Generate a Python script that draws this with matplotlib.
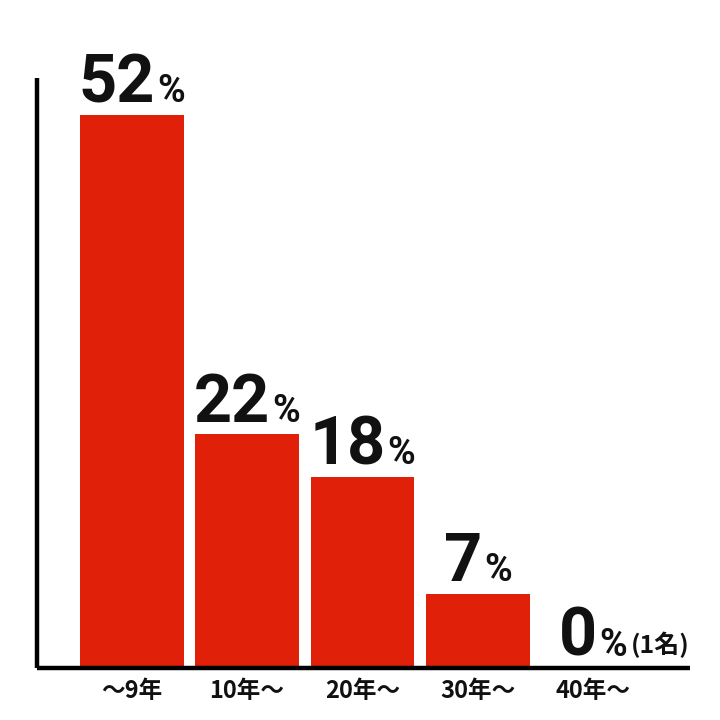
import matplotlib
matplotlib.use('Agg')
import matplotlib.pyplot as plt

plt.rcParams['font.family'] = ['Noto Sans CJK JP', 'DejaVu Sans']

categories = ['～9年', '10年～', '20年～', '30年～', '40年～']
values = [52, 22, 18, 7, 0]
notes = ['', '', '', '', '(1名)']

red = '#e02008'

fig = plt.figure(figsize=(7.2, 7.2), dpi=100)
ax = fig.add_axes([0.051, 0.072, 0.907, 0.82])

x = list(range(len(values)))
ax.bar(x, values, width=0.9, color=red, zorder=2)

ax.set_xlim(-0.823, 4.836)
ax.set_ylim(0, 55.5)
for s in ['top', 'right']:
    ax.spines[s].set_visible(False)
for s in ['left', 'bottom']:
    ax.spines[s].set_linewidth(3.2)
    ax.spines[s].set_color('black')
    ax.spines[s].set_capstyle('butt')
ax.set_yticks([])
ax.set_xticks(x)
ax.set_xticklabels(categories, fontsize=17, fontweight='bold', color='#111111')
ax.tick_params(axis='x', length=0, pad=8)

fig.canvas.draw()
renderer = fig.canvas.get_renderer()
k = 72.0 / fig.dpi
base = 9  # baseline above bar top, points

# value labels: big number + small %, group centred on bar
for xi, v, note in zip(x, values, notes):
    num = ax.annotate(str(v), (xi, v), xytext=(0, base), textcoords='offset points',
                      ha='left', va='baseline', fontsize=48, fontweight='bold',
                      family=['Roboto', 'DejaVu Sans'], color='#111111')
    pct = ax.annotate('%', (xi, v), xytext=(0, base), textcoords='offset points',
                      ha='left', va='baseline', fontsize=27, fontweight='bold',
                      family=['Roboto', 'DejaVu Sans'], color='#111111')
    wn = num.get_window_extent(renderer).width
    wp = pct.get_window_extent(renderer).width
    gap = 2
    total = wn + gap + wp
    num.xyann = (-total / 2 * k, base)
    pct.xyann = ((-total / 2 + wn + gap) * k, base)
    if note:
        ax.annotate(note, (xi, v), xytext=((-total / 2 + wn + gap + wp + 4) * k, base + 2),
                    textcoords='offset points', ha='left', va='baseline',
                    fontsize=18, fontweight='bold', color='#111111')

fig.savefig('out.png', dpi=100, facecolor='white')
